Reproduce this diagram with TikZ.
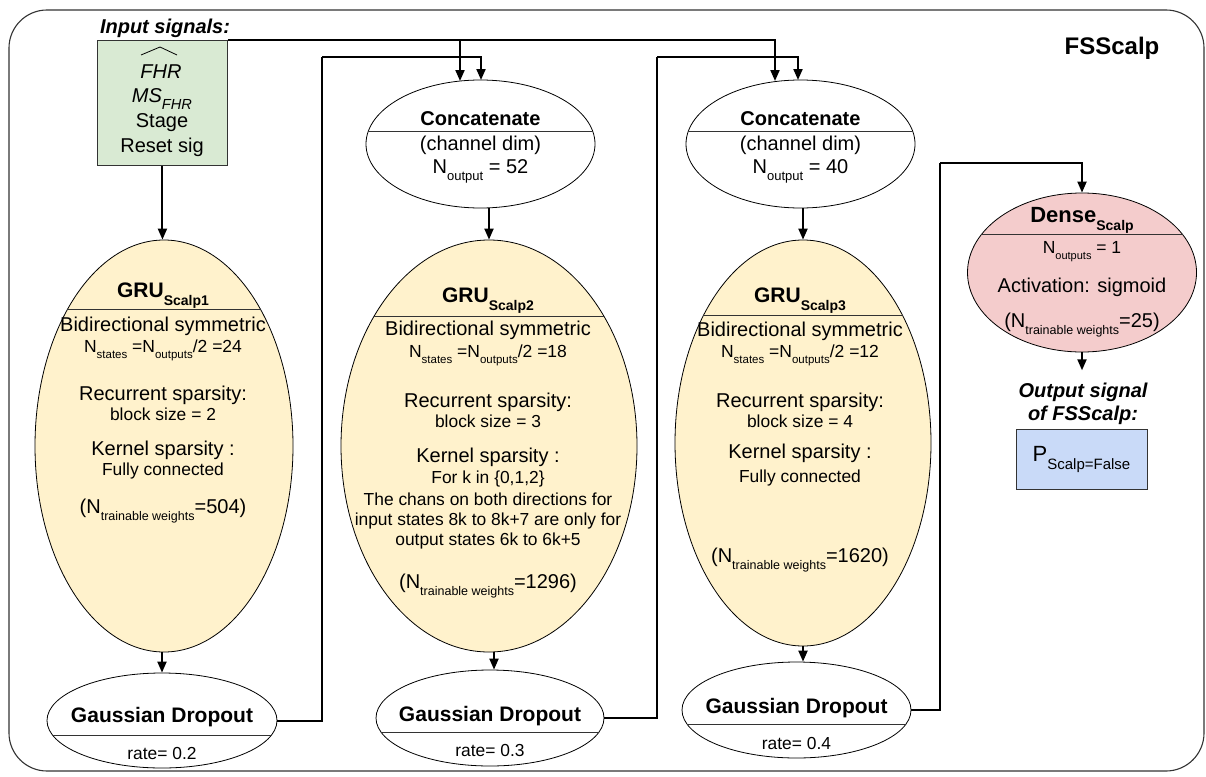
\documentclass[tikz,border=0pt]{standalone}
\usepackage{fontspec}
\setmainfont{Liberation Sans}
\usetikzlibrary{arrows.meta,shapes.geometric,calc}
\definecolor{gfill}{HTML}{D9EAD3}
\definecolor{yfill}{HTML}{FFF2CC}
\definecolor{pfill}{HTML}{F4CCCC}
\definecolor{bfill}{HTML}{C9DAF8}
\definecolor{edge}{HTML}{333333}
\newcommand{\fs}[1]{\fontsize{#1}{#1}\selectfont}
\newcommand{\lsub}[3]{\raisebox{-#1pt}{\fs{#2}#3}}
\tikzset{
  ell/.style={ellipse, draw=black, line width=0.8pt, inner sep=0pt},
  tx/.style={inner sep=0pt, anchor=base},
  big/.style={tx, font=\fs{20}},
  sml/.style={tx, font=\fs{17.4}},
  ttl/.style={tx, font=\fs{21}\bfseries},
  conn/.style={line width=2pt, -{Triangle[length=11pt,width=9pt]}},
  plain/.style={line width=2pt},
  divl/.style={line width=0.9pt, draw=edge},
}
\begin{document}
\begin{tikzpicture}[x=1pt,y=-1pt]
\useasboundingbox (0,0) rectangle (1206,776);
\draw[line width=1.1pt, draw=edge, rounded corners=38pt] (9,10) rectangle (1204,771);

\node[tx, font=\fs{24}\bfseries] (fss) at (1112,55) {FSScalp};
\node[tx, font=\fs{20}\bfseries\itshape] (insig) at (165,34) {Input signals:};

% input box
\node[draw=edge, line width=0.9pt, fill=gfill, minimum width=130pt, minimum height=125pt, anchor=north west, inner sep=0pt] (green) at (97,40) {};
\node[tx, font=\fs{20}\itshape] (fhr) at (161,78) {FHR};
\draw[line width=0.8pt] (141,55) -- (160,47) -- (177,55);
\node[tx, font=\fs{20}\itshape] (ms) at (162,102) {MS\lsub{7.6}{14.6}{FHR}};
\node[big] (stage) at (162,127) {Stage};
\node[big] (reset) at (162,152) {Reset sig};

% concatenate nodes
\node[ell, fill=white, minimum width=229pt, minimum height=128pt] (concat1) at (480.5,144) {};
\begin{scope}\clip (480.5,144) ellipse [x radius=114.5pt, y radius=64pt]; \draw[divl] (0,131) -- (1206,131);\end{scope}
\node[tx, font=\fs{20}\bfseries] (c1t) at (480.5,125) {Concatenate};
\node[big] (c1a) at (480.5,150) {(channel dim)};
\node[big] (c1b) at (480.5,173) {N\lsub{7}{13}{output} = 52};

\node[ell, fill=white, minimum width=229pt, minimum height=128pt] (concat2) at (800.5,144) {};
\begin{scope}\clip (800.5,144) ellipse [x radius=114.5pt, y radius=64pt]; \draw[divl] (0,131) -- (1206,131);\end{scope}
\node[tx, font=\fs{20}\bfseries] (c2t) at (800.5,125) {Concatenate};
\node[big] (c2a) at (800.5,150) {(channel dim)};
\node[big] (c2b) at (800.5,173) {N\lsub{7}{13}{output} = 40};

% GRU 1
\node[ell, fill=yfill, minimum width=258pt, minimum height=412pt] (gru1) at (164,446) {};
\begin{scope}\clip (164,446) ellipse [x radius=129pt, y radius=206pt]; \draw[divl] (0,309) -- (1206,309);\end{scope}
\node[ttl] (g1t) at (163,297) {GRU\lsub{8}{14}{Scalp1}};
\node[big] (g1l1) at (163,331) {Bidirectional symmetric};
\node[tx, font=\fs{17.5}] (g1l2) at (163,352) {N\lsub{6}{11.5}{states} =N\lsub{6}{11.5}{outputs}/2 =24};
\node[big] (g1l3) at (163,400) {Recurrent sparsity:};
\node[sml] (g1l4) at (163,420) {block size = 2};
\node[big] (g1l5) at (163,455) {Kernel sparsity :};
\node[sml] (g1l6) at (163,475) {Fully connected};
\node[big] (g1l7) at (163,513) {(N\lsub{7}{12.5}{trainable weights}=504)};

% GRU 2
\node[ell, fill=yfill, minimum width=296pt, minimum height=412pt] (gru2) at (489,446) {};
\begin{scope}\clip (489,446) ellipse [x radius=148pt, y radius=206pt]; \draw[divl] (0,316) -- (1206,316);\end{scope}
\node[ttl] (g2t) at (488,302) {GRU\lsub{8}{14}{Scalp2}};
\node[big] (g2l1) at (488,335) {Bidirectional symmetric};
\node[tx, font=\fs{17.5}] (g2l2) at (488,357) {N\lsub{6}{11.5}{states} =N\lsub{6}{11.5}{outputs}/2 =18};
\node[big] (g2l3) at (488,407) {Recurrent sparsity:};
\node[sml] (g2l4) at (488,427) {block size = 3};
\node[big] (g2l5) at (488,462) {Kernel sparsity :};
\node[sml] (g2l6) at (488,483) {For k in \{0,1,2\}};
\node[sml] (g2l7) at (488,505) {The chans on both directions for};
\node[sml] (g2l8) at (488,525) {input states 8k to 8k+7 are only for};
\node[sml] (g2l9) at (488,545) {output states 6k to 6k+5};
\node[big] (g2l10) at (488,588) {(N\lsub{7}{12.5}{trainable weights}=1296)};

% GRU 3
\node[ell, fill=yfill, minimum width=256pt, minimum height=406pt] (gru3) at (803,443) {};
\begin{scope}\clip (803,443) ellipse [x radius=128pt, y radius=203pt]; \draw[divl] (0,315) -- (1206,315);\end{scope}
\node[ttl] (g3t) at (800,302) {GRU\lsub{8}{14}{Scalp3}};
\node[big] (g3l1) at (800,336) {Bidirectional symmetric};
\node[tx, font=\fs{17.5}] (g3l2) at (800,357) {N\lsub{6}{11.5}{states} =N\lsub{6}{11.5}{outputs}/2 =12};
\node[big] (g3l3) at (800,407) {Recurrent sparsity:};
\node[sml] (g3l4) at (800,427) {block size = 4};
\node[big] (g3l5) at (800,458) {Kernel sparsity :};
\node[sml] (g3l6) at (800,482) {Fully connected};
\node[big] (g3l7) at (800,562) {(N\lsub{7}{12.5}{trainable weights}=1620)};

% dropouts
\node[ell, fill=white, minimum width=230pt, minimum height=95pt] (d1) at (162,720.5) {};
\begin{scope}\clip (162,720.5) ellipse [x radius=115pt, y radius=47.5pt]; \draw[divl] (0,735) -- (1206,735);\end{scope}
\node[ttl] (d1t) at (162,722) {Gaussian Dropout};
\node[sml] (d1r) at (162,759) {rate= 0.2};

\node[ell, fill=white, minimum width=228pt, minimum height=96pt] (d2) at (490,718) {};
\begin{scope}\clip (490,718) ellipse [x radius=114pt, y radius=48pt]; \draw[divl] (0,732) -- (1206,732);\end{scope}
\node[ttl] (d2t) at (490,721) {Gaussian Dropout};
\node[sml] (d2r) at (490,756) {rate= 0.3};

\node[ell, fill=white, minimum width=229pt, minimum height=96pt] (d3) at (796.5,710) {};
\begin{scope}\clip (796.5,710) ellipse [x radius=114.5pt, y radius=48pt]; \draw[divl] (0,724) -- (1206,724);\end{scope}
\node[ttl] (d3t) at (796.5,713) {Gaussian Dropout};
\node[sml] (d3r) at (796.5,749) {rate= 0.4};

% dense
\node[ell, fill=pfill, minimum width=229pt, minimum height=159pt] (dense) at (1082,272.5) {};
\begin{scope}\clip (1082,272.5) ellipse [x radius=114.5pt, y radius=79.5pt]; \draw[divl] (0,234) -- (1206,234);\end{scope}
\node[tx, font=\fs{22}\bfseries] (dt) at (1082,222) {Dense\lsub{8}{14}{Scalp}};
\node[tx, font=\fs{17.5}] (dl1) at (1082,253) {N\lsub{6}{11}{outputs} = 1};
\node[big] (dl2) at (1082,292) {Activation: sigmoid};
\node[big] (dl3) at (1082,327) {(N\lsub{7}{12.5}{trainable weights}=25)};

% output
\node[tx, font=\fs{20}\bfseries\itshape] (out1) at (1083,397) {Output signal};
\node[tx, font=\fs{20}\bfseries\itshape] (out2) at (1083,420) {of FSScalp:};
\node[draw=edge, line width=0.9pt, fill=bfill, minimum width=131pt, minimum height=60pt, anchor=north, inner sep=0pt] (outbox) at (1081.5,429) {\fs{22}P\lsub{8}{15}{Scalp=False}};

% junction coordinates
\coordinate (c1in) at (460,81);
\coordinate (c2in) at (775,81);
\coordinate (c1fb) at (481,80);
\coordinate (c2fb) at (798,80);
\coordinate (j1) at (322,57);
\coordinate (j2) at (657,57);
\coordinate (j3) at (940,163);

% connectors
\draw[conn] (green.south) -- (green.south |- gru1.north);
\draw[conn] (green.north east) -| (c1in);
\draw[conn] (green.north east) -| (c2in);
\draw[plain] (d1.east) -| (j1);
\draw[conn] (j1) -| (c1fb);
\draw[plain] (d2.east) -| (j2);
\draw[conn] (j2) -| (c2fb);
\draw[plain] (d3.east) -| (j3);
\draw[conn] (j3) -| (dense.north);
\draw[conn] (concat1.south -| gru2.north) -- (gru2.north);
\draw[conn] (concat2.south -| gru3.north) -- (gru3.north);
\draw[conn] (gru1.south -| d1.north) -- (d1.north);
\draw[conn] (gru2.south -| 494,0) -- (d2.north -| 494,0);
\draw[conn] (gru3.south) -- (gru3.south |- d3.north);
\draw[conn, shorten >=12pt] (dense.south) -- (out1.north -| dense.south);
\end{tikzpicture}
\end{document}
